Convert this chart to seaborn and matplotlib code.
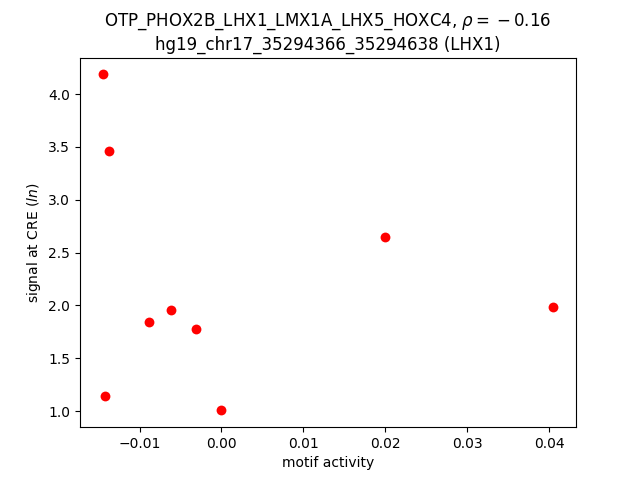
import matplotlib
matplotlib.use('Agg')
import matplotlib.pyplot as plt
import seaborn as sns

# motif activity vs CRE signal
motif_activity = [-0.01453, -0.01376, -0.00890, -0.00617, -0.00315,
                  -0.01425, 0.0, 0.01999, 0.04055]
cre_signal = [4.186, 3.458, 1.842, 1.953, 1.773,
              1.142, 1.007, 2.644, 1.984]

fig, ax = plt.subplots(figsize=(6.4, 4.8), dpi=100)
sns.scatterplot(x=motif_activity, y=cre_signal, color='red', s=50,
                linewidth=0, ax=ax)
ax.set_xlabel("motif activity")
ax.set_ylabel(r"signal at CRE ($ln$)")
ax.set_title("OTP_PHOX2B_LHX1_LMX1A_LHX5_HOXC4, $\\rho = {}-0.16$\n"
             "hg19_chr17_35294366_35294638 (LHX1)")
fig.savefig("out.png", dpi=100)
